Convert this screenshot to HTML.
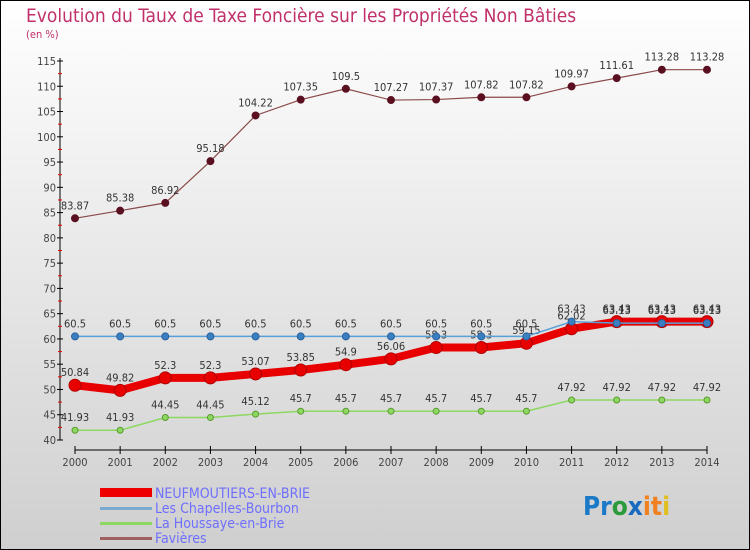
<!DOCTYPE html>
<html><head><meta charset="utf-8"><style>
body{margin:0;}
svg{display:block;font-family:"DejaVu Sans Condensed","Liberation Sans",sans-serif;}
</style></head><body>
<svg id="c" width="750" height="550" xmlns="http://www.w3.org/2000/svg">
<defs><linearGradient id="bg" x1="0" y1="0" x2="0" y2="1"><stop offset="0" stop-color="#ffffff"/><stop offset="1" stop-color="#cfcfcf"/></linearGradient></defs>
<rect x="0.5" y="0.5" width="749" height="549" fill="url(#bg)" stroke="#000"/>
<text x="26" y="22" font-size="19" fill="#c0306a">Evolution du Taux de Taxe Foncière sur les Propriétés Non Bâties</text>
<text x="26" y="38" font-size="11" fill="#c0306a">(en %)</text>
<g id="axes"></g><g id="series"></g>
<g>
<rect x="100" y="488" width="52" height="9" fill="#e00"/>
<text x="155" y="498" font-size="14" fill="#6f6fff">NEUFMOUTIERS-EN-BRIE</text>
<rect x="100" y="507" width="52" height="3" fill="#7aaad0"/>
<text x="155" y="513" font-size="14" fill="#6f6fff">Les Chapelles-Bourbon</text>
<rect x="100" y="522" width="52" height="3" fill="#8cd860"/>
<text x="155" y="528" font-size="14" fill="#6f6fff">La Houssaye-en-Brie</text>
<rect x="100" y="537" width="52" height="3" fill="#a06060"/>
<text x="155" y="543" font-size="14" fill="#6f6fff">Favières</text>
</g>
<text x="583" y="515" font-size="26" font-weight="bold"><tspan fill="#1a7ac8">Pr</tspan><tspan fill="#2a9a3a">o</tspan><tspan fill="#1a6ac0">x</tspan><tspan fill="#f08020">it</tspan><tspan fill="#e0c020">i</tspan></text>
</svg>
<script>
const years=[2000,2001,2002,2003,2004,2005,2006,2007,2008,2009,2010,2011,2012,2013,2014];
const neuf=[50.84,49.82,52.3,52.3,53.07,53.85,54.9,56.06,58.3,58.3,59.15,62.02,63.43,63.43,63.43];
const chap=[60.5,60.5,60.5,60.5,60.5,60.5,60.5,60.5,60.5,60.5,60.5,63.43,63.13,63.13,63.13];
const hous=[41.93,41.93,44.45,44.45,45.12,45.7,45.7,45.7,45.7,45.7,45.7,47.92,47.92,47.92,47.92];
const fav=[83.87,85.38,86.92,95.18,104.22,107.35,109.5,107.27,107.37,107.82,107.82,109.97,111.61,113.28,113.28];
const yTicks=[40,45,50,55,60,65,70,75,80,85,90,95,100,105,110,115];
const NS='http://www.w3.org/2000/svg';
const X=y=>75+(y-2000)*(707-75)/14;
const Y=v=>440-(v-40)*(440-61)/75;
function mk(t,a,p){const e=document.createElementNS(NS,t);for(const k in a)e.setAttribute(k,a[k]);p.appendChild(e);return e;}
const ax=document.getElementById('axes'),sg=document.getElementById('series');
const yl=mk('line',{x1:60,y1:58,x2:60,y2:440,stroke:'#000'},ax);


const xl=mk('line',{x1:75,y1:450,x2:707,y2:450,stroke:'#000'},ax);


yTicks.forEach(v=>{const y=Y(v);mk('line',{x1:57,y1:y,x2:63,y2:y,stroke:'#000'},ax);
if(v<115)mk('line',{x1:58,y1:Y(v+2.5),x2:62,y2:Y(v+2.5),stroke:'#e00'},ax);
const t=mk('text',{x:56,y:y+4,'font-size':11,'text-anchor':'end',fill:'#444'},ax);t.textContent=v;

});
years.forEach(yr=>{const x=X(yr);mk('line',{x1:x,y1:446,x2:x,y2:454,stroke:'#000'},ax);
const t=mk('text',{x:x,y:466,'font-size':11,'text-anchor':'middle',fill:'#444'},ax);t.textContent=yr;

});
function series(vals,name,col,w,r,dot,dotStroke){
const g=mk('g',{},sg);


mk('polyline',{points:vals.map((v,i)=>X(years[i])+','+Y(v)).join(' '),fill:'none',stroke:col,'stroke-width':w},g);
vals.forEach((v,i)=>{const c=mk('circle',{cx:X(years[i]),cy:Y(v),r:r,fill:dot,stroke:dotStroke,'stroke-width':1},g);


const t=mk('text',{x:X(years[i]),y:Y(v)-9,'font-size':11,'text-anchor':'middle',fill:'#333'},g);t.textContent=String(v);

});}
series(hous,'houssaye','#8cd860',1.5,3,'#8cd860','#5a9a30');
series(fav,'favieres','#8a4a4a',1.2,3.5,'#5a1020','#5a1020');
series(neuf,'neufmoutiers','#e80000',8,6,'#e80000','#b00000');
series(chap,'chapelles','#5aa0d8',1.5,3.5,'#3a80c0','#2a60a0');
</script>
</body></html>
